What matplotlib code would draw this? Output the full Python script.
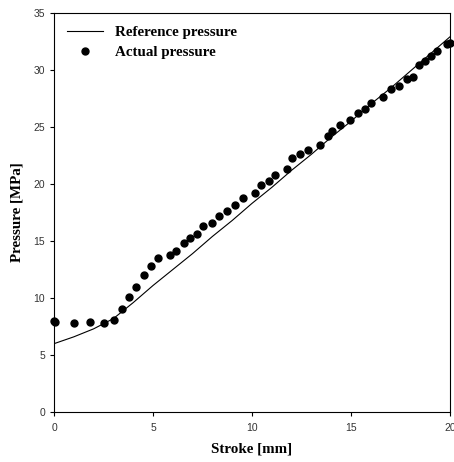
import numpy as np
import matplotlib
matplotlib.use("Agg")
import matplotlib.pyplot as plt

# reference pressure curve
ref_stroke = [0, 1, 2, 3, 4, 5, 6, 7, 8, 9, 10, 11, 12, 13, 14, 15, 16, 17, 18, 19, 20]
ref_pressure = [6.0, 6.6, 7.3, 8.2, 9.6, 11.1, 12.5, 13.9, 15.4, 16.8, 18.3, 19.7,
                21.2, 22.6, 24.1, 25.5, 27.0, 28.4, 29.9, 31.4, 32.9]

# measured pressure points
act_stroke = [0.0, 0.05, 1.0, 1.82, 2.53, 3.03, 3.42, 3.81, 4.12, 4.53, 4.92, 5.25,
              5.86, 6.14, 6.55, 6.87, 7.24, 7.54, 7.96, 8.35, 8.75, 9.16, 9.56,
              10.15, 10.44, 10.84, 11.16, 11.75, 12.04, 12.44, 12.83, 13.43, 13.85,
              14.04, 14.44, 14.93, 15.35, 15.72, 16.03, 16.63, 17.02, 17.41, 17.84,
              18.11, 18.45, 18.74, 19.06, 19.36, 19.83, 20.0]
act_pressure = [8.0, 7.87, 7.83, 7.87, 7.83, 8.04, 9.0, 10.06, 10.96, 11.99, 12.84, 13.48,
                13.77, 14.15, 14.8, 15.24, 15.58, 16.3, 16.6, 17.2, 17.6, 18.15, 18.8,
                19.2, 19.9, 20.26, 20.8, 21.3, 22.3, 22.6, 23.0, 23.4, 24.2,
                24.65, 25.2, 25.6, 26.2, 26.6, 27.1, 27.6, 28.3, 28.6, 29.2,
                29.4, 30.4, 30.75, 31.25, 31.66, 32.3, 32.4]

fig = plt.figure(figsize=(4.54, 4.62), dpi=100)
ax = fig.add_axes([0.119, 0.108, 0.872, 0.864])

ax.plot(ref_stroke, ref_pressure, color="black", lw=0.8, label="Reference pressure")
ax.plot(act_stroke, act_pressure, "o", color="black", ms=5, label="Actual pressure",
        clip_on=False)

ax.set_xlim(0, 20)
ax.set_ylim(0, 35)
ax.set_xticks([0, 5, 10, 15, 20])
ax.set_yticks([0, 5, 10, 15, 20, 25, 30, 35])

for s in ax.spines.values():
    s.set_linewidth(0.8)
ax.tick_params(direction="out", length=3, width=0.8, labelsize=7.5,
               labelcolor="#333333", top=False, right=False)
for lab in ax.get_xticklabels() + ax.get_yticklabels():
    lab.set_family("Liberation Sans")
ax.tick_params(axis="x", pad=5)

serif = {"family": "Liberation Serif", "weight": "bold", "size": 10.8}
ax.set_xlabel("Stroke [mm]", fontdict=serif, labelpad=7)
ax.set_ylabel("Pressure [MPa]", fontdict=serif, labelpad=7)

ax.legend(loc="upper left", frameon=False, handlelength=2.4, handletextpad=0.8,
          borderaxespad=0.5, labelspacing=0.45, borderpad=0.35,
          prop={"family": "Liberation Serif", "weight": "bold", "size": 10.8})

plt.savefig("out.png", dpi=100)
